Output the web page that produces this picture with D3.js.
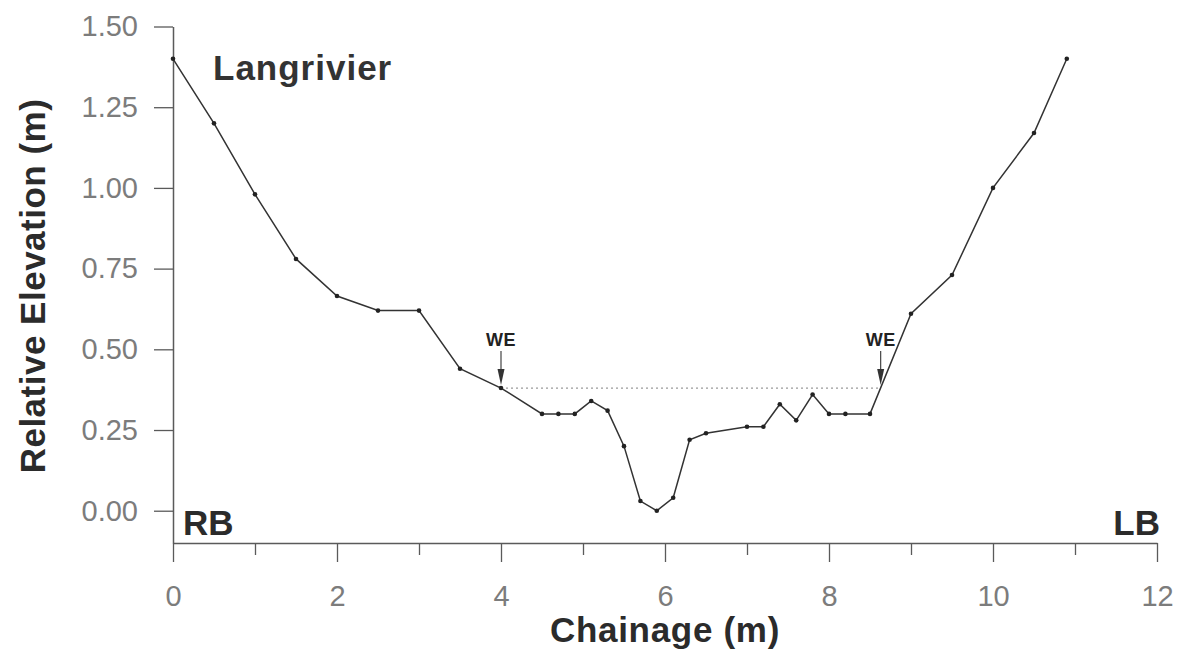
<!DOCTYPE html>
<html>
<head>
<meta charset="utf-8">
<script src="https://cdn.jsdelivr.net/npm/d3@7"></script>
<style>
  body { margin: 0; background: #fff; }
  svg { display: block; font-family: "Liberation Sans", Arial, sans-serif; }
</style>
</head>
<body>
<div id="chart"></div>
<script>
// cross-section survey, Langrivier
const chainage = [0, 0.5, 1, 1.5, 2, 2.5, 3, 3.5, 4, 4.5, 4.7, 4.9, 5.1, 5.3, 5.5, 5.7, 5.9, 6.1, 6.3, 6.5, 7.0, 7.2, 7.4, 7.6, 7.8, 8.0, 8.2, 8.5, 9.0, 9.5, 10.0, 10.5, 10.9];
const elevation = [1.40, 1.20, 0.98, 0.78, 0.665, 0.62, 0.62, 0.44, 0.38, 0.30, 0.30, 0.30, 0.34, 0.31, 0.20, 0.03, 0.00, 0.04, 0.22, 0.24, 0.26, 0.26, 0.33, 0.28, 0.36, 0.30, 0.30, 0.30, 0.61, 0.73, 1.00, 1.17, 1.40];

const waterLevel = 0.38;
const waterEdges = [4.0, 8.63];

const xMajor = [0, 2, 4, 6, 8, 10, 12];
const xMinor = [1, 3, 5, 7, 9, 11];
const yTicks = [0, 0.25, 0.5, 0.75, 1.0, 1.25, 1.5];

const width = 1183, height = 649;
const points = chainage.map((c, i) => ({ c, e: elevation[i] }));

const x = d3.scaleLinear().domain([0, 12]).range([173, 1157]);
const y = d3.scaleLinear().domain([-0.1, 1.5]).range([543, 26.5]);

const svg = d3.select("#chart").append("svg")
  .attr("width", width)
  .attr("height", height)
  .attr("viewBox", [0, 0, width, height]);

svg.append("rect").attr("width", width).attr("height", height).attr("fill", "#fff");

const axisColor = "#5a5a5a";
const tickText = "#7c7c7c";

// x axis: minor ticks then major
svg.append("g")
  .attr("transform", `translate(0,${y(-0.1)})`)
  .call(d3.axisBottom(x).tickValues(xMinor).tickSize(12).tickSizeOuter(0).tickFormat(""))
  .call((g) => g.select(".domain").remove())
  .call((g) => g.selectAll("line").attr("stroke", axisColor).attr("stroke-width", 1.3));

svg.append("g")
  .attr("transform", `translate(0,${y(-0.1)})`)
  .call(d3.axisBottom(x).tickValues(xMajor).tickSize(19).tickSizeOuter(0).tickPadding(23))
  .call((g) => g.select(".domain").attr("stroke", axisColor).attr("stroke-width", 1.5))
  .call((g) => g.selectAll("line").attr("stroke", axisColor).attr("stroke-width", 1.3))
  .call((g) => g.selectAll("text")
    .attr("fill", tickText)
    .attr("font-size", 29)
    .attr("font-family", "Liberation Sans, Arial, sans-serif"));

svg.append("g")
  .attr("transform", `translate(${x(0)},0)`)
  .call(d3.axisLeft(y).tickValues(yTicks).tickFormat(d3.format(".2f")).tickSize(19).tickSizeOuter(0).tickPadding(16))
  .call((g) => g.select(".domain").attr("stroke", axisColor).attr("stroke-width", 1.5))
  .call((g) => g.selectAll("line").attr("stroke", axisColor).attr("stroke-width", 1.3))
  .call((g) => g.selectAll("text")
    .attr("fill", tickText)
    .attr("font-size", 29)
    .attr("font-family", "Liberation Sans, Arial, sans-serif"));

// titles
svg.append("text")
  .attr("x", 665)
  .attr("y", 642)
  .attr("text-anchor", "middle")
  .attr("font-size", 35)
  .attr("font-weight", "bold")
  .attr("letter-spacing", 0.7)
  .attr("fill", "#2b2b2b")
  .text("Chainage (m)");

svg.append("text")
  .attr("transform", "translate(45,286) rotate(-90)")
  .attr("text-anchor", "middle")
  .attr("font-size", 35)
  .attr("font-weight", "bold")
  .attr("letter-spacing", 0.5)
  .attr("fill", "#2b2b2b")
  .text("Relative Elevation (m)");

svg.append("text")
  .attr("x", 213)
  .attr("y", 80)
  .attr("font-size", 35)
  .attr("font-weight", "bold")
  .attr("letter-spacing", 1)
  .attr("fill", "#333")
  .text("Langrivier");

svg.append("text")
  .attr("x", 183).attr("y", 535)
  .attr("font-size", 35).attr("font-weight", "bold").attr("fill", "#2b2b2b")
  .text("RB");

svg.append("text")
  .attr("x", 1160).attr("y", 535)
  .attr("text-anchor", "end")
  .attr("font-size", 35).attr("font-weight", "bold").attr("fill", "#2b2b2b")
  .text("LB");

// water surface
svg.append("line")
  .attr("x1", x(waterEdges[0])).attr("x2", x(waterEdges[1]))
  .attr("y1", y(waterLevel)).attr("y2", y(waterLevel))
  .attr("stroke", "#9a9a9a")
  .attr("stroke-width", 1.3)
  .attr("stroke-dasharray", "2,3");

// profile
const line = d3.line().x((d) => x(d.c)).y((d) => y(d.e));
svg.append("path")
  .datum(points)
  .attr("fill", "none")
  .attr("stroke", "#333")
  .attr("stroke-width", 1.5)
  .attr("d", line);

svg.append("g")
  .selectAll("circle")
  .data(points)
  .join("circle")
  .attr("cx", (d) => x(d.c))
  .attr("cy", (d) => y(d.e))
  .attr("r", 2.3)
  .attr("fill", "#222");

// WE markers
const we = svg.append("g").selectAll("g").data(waterEdges).join("g")
  .attr("transform", (d) => `translate(${x(d)},${y(waterLevel)})`);

we.append("text")
  .attr("y", -42)
  .attr("text-anchor", "middle")
  .attr("font-size", 18)
  .attr("font-weight", "bold")
  .attr("letter-spacing", 0.5)
  .attr("fill", "#222")
  .text("WE");

we.append("line")
  .attr("y1", -37).attr("y2", -16)
  .attr("stroke", "#444")
  .attr("stroke-width", 1.2);

we.append("path")
  .attr("d", "M-3.5,-19 L3.5,-19 L0,-3 Z")
  .attr("fill", "#333");
</script>
</body>
</html>
